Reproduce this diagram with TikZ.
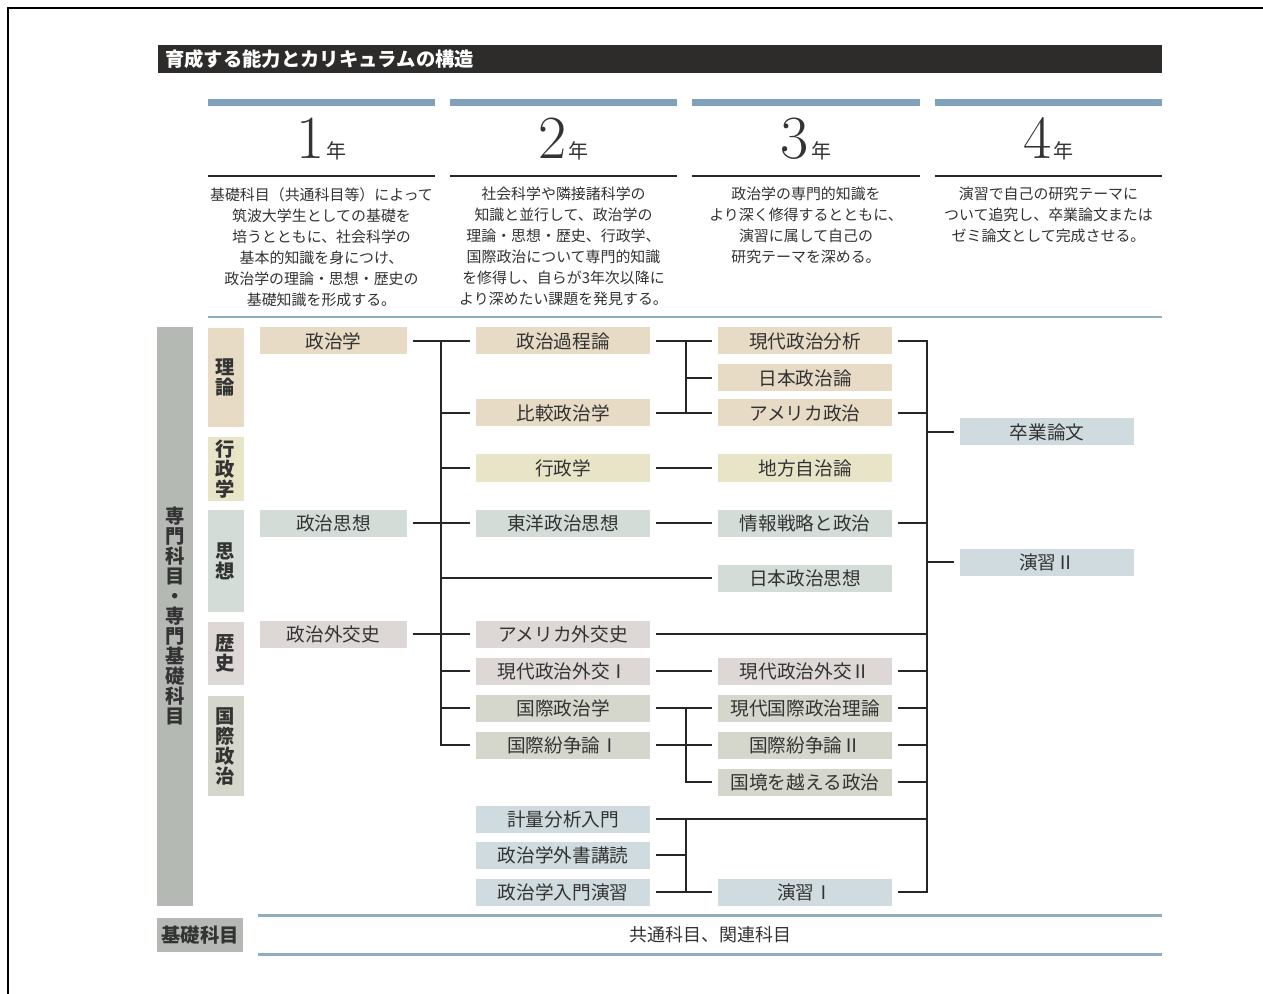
\documentclass[tikz,border=0pt]{standalone}
\usepackage{fontspec}
\newfontfamily\jp{Noto Sans CJK JP}
\usetikzlibrary{calc}
\definecolor{titlebg}{HTML}{2E2C2B}
\definecolor{barblue}{HTML}{7FA2BA}
\definecolor{lineblue}{HTML}{8FADC0}
\definecolor{tanc}{HTML}{E7DBC5}
\definecolor{olivec}{HTML}{E8E4C8}
\definecolor{thoughtc}{HTML}{D4DCD8}
\definecolor{histc}{HTML}{DDD8D5}
\definecolor{intlc}{HTML}{D5D7CC}
\definecolor{semc}{HTML}{CFDBDE}
\definecolor{sidegray}{HTML}{B5B9B3}
\definecolor{txt}{HTML}{333333}
\newcommand\yearlab[1]{{\fontsize{46}{46}\selectfont #1}\,{\jp\fontsize{15}{15}\selectfont 年}}
\begin{document}
\begin{tikzpicture}[x=0.75pt,y=-0.75pt,
  course/.style={inner sep=0pt, outer sep=4.5pt, minimum height=20.25pt, text=txt,
    font=\jp\fontsize{14}{16}\selectfont},
  yone/.style={course, minimum width=110.25pt},
  ytwo/.style={course, minimum width=130.5pt},
  cat/.style={inner sep=0pt, minimum width=27pt, align=center, text=black!80,
    font=\jp\bfseries\fontsize{14.5}{15}\selectfont},
  desc/.style={anchor=north, align=center, inner sep=0pt, text=txt,
    font=\jp\fontsize{11.2}{15.75}\selectfont},
  yearnode/.style={anchor=base, inner sep=0pt, text=txt},
  conn/.style={draw=black!85, line width=0.9pt},
  bar/.style={fill=barblue},
]
\useasboundingbox (0,0) rectangle (1263,994);
\fill[white] (0,0) rectangle (1263,994);
\draw[line width=1.5pt] (8,994) -- (8,8) -- (1263,8);

% title
\node (title) [anchor=west, fill=titlebg, inner xsep=5.25pt, inner ysep=0pt,
  minimum height=21pt, text width=742.5pt, align=left, text=white,
  font=\jp\bfseries\fontsize{14.5}{14.5}\selectfont] at (158,59) {育成する能力とカリキュラムの構造};

% year headers
\fill[bar] (208,99) rectangle (435,106);
\fill[bar] (450,99) rectangle (677,106);
\fill[bar] (692,99) rectangle (920,106);
\fill[bar] (935,99) rectangle (1162,106);
\node (yr1) [yearnode] at (321.5,159) {\yearlab{1}};
\node (yr2) [yearnode] at (563.5,159) {\yearlab{2}};
\node (yr3) [yearnode] at (806,159) {\yearlab{3}};
\node (yr4) [yearnode] at (1048.5,159) {\yearlab{4}};
\foreach \a/\b in {208/435,450/677,692/920,935/1162}
  \draw[line width=1.1pt, black!85] (\a,176) -- (\b,176);

\node (d1) [desc] at (321.5,187) {基礎科目（共通科目等）によって\\筑波大学生としての基礎を\\培うとともに、社会科学の\\基本的知識を身につけ、\\政治学の理論・思想・歴史の\\基礎知識を形成する。};
\node (d2) [desc] at (563.5,187) {社会科学や隣接諸科学の\\知識と並行して、政治学の\\理論・思想・歴史、行政学、\\国際政治について専門的知識\\を修得し、自らが3年次以降に\\より深めたい課題を発見する。};
\node (d3) [desc] at (806,187) {政治学の専門的知識を\\より深く修得するとともに、\\演習に属して自己の\\研究テーマを深める。};
\node (d4) [desc] at (1048.5,187) {演習で自己の研究テーマに\\ついて追究し、卒業論文または\\ゼミ論文として完成させる。};

\draw[lineblue, line width=1.5pt] (208,317) -- (1162,317);

% side labels
\node (senmon) [cat, fill=sidegray, minimum height=433.5pt] at (175,616.5)
  {専\\門\\科\\目\\・\\専\\門\\基\\礎\\科\\目};
\node (riron) [cat, fill=tanc, minimum height=74.25pt] at (225.5,377.5) {理\\論};
\node (gyosei) [cat, fill=olivec, minimum height=48pt] at (225.5,469) {行\\政\\学};
\node (shiso) [cat, fill=thoughtc, minimum height=76.5pt] at (225.5,561) {思\\想};
\node (rekishi) [cat, fill=histc, minimum height=47.25pt] at (225.5,653.5) {歴\\史};
\node (kokusai) [cat, fill=intlc, minimum height=75pt] at (225.5,746) {国\\際\\政\\治};
\node (kiso) [cat, fill=sidegray, minimum width=64.5pt, minimum height=25.5pt] at (200,935) {基礎科目};

% year 1
\node (c1a) [yone, fill=tanc] at (333.5,341) {政治学};
\node (c1b) [yone, fill=thoughtc] at (333.5,523) {政治思想};
\node (c1c) [yone, fill=histc] at (333.5,634) {政治外交史};
% year 2
\node (k2a) [ytwo, fill=tanc] at (563,341) {政治過程論};
\node (k2b) [ytwo, fill=tanc] at (563,413) {比較政治学};
\node (k2c) [ytwo, fill=olivec] at (563,468) {行政学};
\node (k2d) [ytwo, fill=thoughtc] at (563,523) {東洋政治思想};
\node (k2e) [ytwo, fill=histc] at (563,634) {アメリカ外交史};
\node (k2f) [ytwo, fill=histc] at (563,671) {現代政治外交Ⅰ};
\node (k2g) [ytwo, fill=intlc] at (563,708) {国際政治学};
\node (k2h) [ytwo, fill=intlc] at (563,745) {国際紛争論Ⅰ};
\node (k2i) [ytwo, fill=semc] at (563,819) {計量分析入門};
\node (k2j) [ytwo, fill=semc] at (563,855) {政治学外書講読};
\node (k2k) [ytwo, fill=semc] at (563,892) {政治学入門演習};
% year 3
\node (k3a) [ytwo, fill=tanc] at (805,341) {現代政治分析};
\node (k3b) [ytwo, fill=tanc] at (805,378) {日本政治論};
\node (k3c) [ytwo, fill=tanc] at (805,413) {アメリカ政治};
\node (k3d) [ytwo, fill=olivec] at (805,468) {地方自治論};
\node (k3e) [ytwo, fill=thoughtc] at (805,523) {情報戦略と政治};
\node (k3f) [ytwo, fill=thoughtc] at (805,578) {日本政治思想};
\node (k3g) [ytwo, fill=histc] at (805,671) {現代政治外交Ⅱ};
\node (k3h) [ytwo, fill=intlc] at (805,708) {現代国際政治理論};
\node (k3i) [ytwo, fill=intlc] at (805,745) {国際紛争論Ⅱ};
\node (k3j) [ytwo, fill=intlc] at (805,782) {国境を越える政治};
\node (k3k) [ytwo, fill=semc] at (805,892) {演習Ⅰ};
% year 4
\node (k4a) [ytwo, fill=semc] at (1047,432) {卒業論文};
\node (k4b) [ytwo, fill=semc] at (1047,562) {演習Ⅱ};

% trunks
\coordinate (tA) at (441,0);
\coordinate (tB) at (686,0);
\coordinate (tE) at (927,0);

% year1 -> year2
\draw[conn] (c1a.east) -- (k2a.west);
\draw[conn] (k2a.west -| tA) -- (k2h.west -| tA) -- (k2h.west);
\foreach \n in {k2b,k2c,k2f,k2g} \draw[conn] (\n.west -| tA) -- (\n.west);
\draw[conn] (c1b.east) -- (k2d.west);
\draw[conn] (c1c.east) -- (k2e.west);
\draw[conn] (k3f.west -| tA) -- (k3f.west);

% year2 -> year3
\draw[conn] (k2a.east) -- (k3a.west);
\draw[conn] (k2b.east) -- (k3c.west);
\draw[conn] (k3a.west -| tB) -- (k3c.west -| tB);
\draw[conn] (k3b.west -| tB) -- (k3b.west);
\draw[conn] (k2c.east) -- (k3d.west);
\draw[conn] (k2d.east) -- (k3e.west);
\draw[conn] (k2e.east) -- (k2e.east -| tE);
\draw[conn] (k2f.east) -- (k3g.west);
\draw[conn] (k2g.east) -- (k3h.west);
\draw[conn] (k2h.east) -- (k3i.west);
\draw[conn] (k3h.west -| tB) -- (k3j.west -| tB) -- (k3j.west);
\draw[conn] (k2i.east) -- (k2i.east -| tE);
\draw[conn] (k2i.east -| tB) -- (k2k.east -| tB);
\draw[conn] (k2j.east) -- (k2j.east -| tB);
\draw[conn] (k2k.east) -- (k3k.west);

% year3 -> year4
\draw[conn] (k3a.east) -- (k3a.east -| tE) -- (k3k.east -| tE) -- (k3k.east);
\foreach \n in {k3c,k3e,k3g,k3h,k3i,k3j} \draw[conn] (\n.east) -- (\n.east -| tE);
\draw[conn] (k4a.west -| tE) -- (k4a.west);
\draw[conn] (k4b.west -| tE) -- (k4b.west);

% bottom
\draw[lineblue, line width=2.25pt] (258,915) -- (1162,915);
\draw[lineblue, line width=2.25pt] (258,954) -- (1162,954);
\node (kyotsu) [inner sep=0pt, text=txt, font=\jp\fontsize{13.5}{14}\selectfont] at (710,935) {共通科目、関連科目};
\end{tikzpicture}
\end{document}
